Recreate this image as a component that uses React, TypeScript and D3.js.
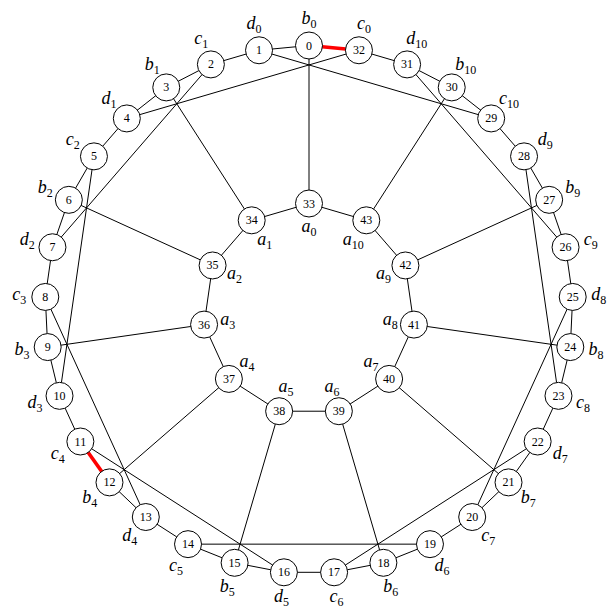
import * as d3 from "d3";

// outer ring labels (node 0..32), letter + subscript
const outerLabels: [string, string][] = [
  ["b", "0"], ["d", "0"], ["c", "1"], ["b", "1"], ["d", "1"], ["c", "2"], ["b", "2"], ["d", "2"],
  ["c", "3"], ["b", "3"], ["d", "3"], ["c", "4"], ["b", "4"], ["d", "4"], ["c", "5"], ["b", "5"],
  ["d", "5"], ["c", "6"], ["b", "6"], ["d", "6"], ["c", "7"], ["b", "7"], ["d", "7"], ["c", "8"],
  ["b", "8"], ["d", "8"], ["c", "9"], ["b", "9"], ["d", "9"], ["c", "10"], ["b", "10"], ["d", "10"],
  ["c", "0"],
];
// inner ring labels (node 33..43)
const innerLabels: [string, string][] = [
  ["a", "0"], ["a", "1"], ["a", "2"], ["a", "3"], ["a", "4"], ["a", "5"],
  ["a", "6"], ["a", "7"], ["a", "8"], ["a", "9"], ["a", "10"],
];
// spokes a_i - b_i
const spokes: [number, number][] = [
  [33, 0], [34, 3], [35, 6], [36, 9], [37, 12], [38, 15],
  [39, 18], [40, 21], [41, 24], [42, 27], [43, 30],
];
// chords c_i - d_(i+1)
const chords: [number, number][] = [
  [32, 4], [2, 7], [5, 10], [8, 13], [11, 16], [14, 19],
  [17, 22], [20, 25], [23, 28], [26, 31], [29, 1],
];
const redEdges: [number, number][] = [[0, 32], [11, 12]];

const W = 611, H = 609;
const cx = 309, cy = 309.5;
const R_OUT = 264, R_IN = 106;
const R_OUT_LBL = 290, R_IN_LBL = 82;
const NODE_R = 13.5;

const nOut = outerLabels.length;
const nIn = innerLabels.length;

const angOut = d3.scaleLinear().domain([0, nOut]).range([0, -2 * Math.PI]);
const angIn = d3.scaleLinear().domain([0, nIn]).range([0, -2 * Math.PI]);

function pos(i: number, lbl = false): [number, number] {
  const p = i < nOut
    ? d3.pointRadial(angOut(i), lbl ? R_OUT_LBL : R_OUT)
    : d3.pointRadial(angIn(i - nOut), lbl ? R_IN_LBL : R_IN);
  return [cx + p[0], cy + p[1]];
}

const ringEdges: [number, number][] = [
  ...d3.range(nOut).map(i => [i, (i + 1) % nOut] as [number, number]),
  ...d3.range(nIn).map(i => [nOut + i, nOut + (i + 1) % nIn] as [number, number]),
];
const isRed = (a: number, b: number) =>
  redEdges.some(([u, v]) => (u === a && v === b) || (u === b && v === a));

const edges = [...ringEdges, ...spokes, ...chords];
const allLabels = [...outerLabels, ...innerLabels];

export default function App() {
  return (
    <svg width={W} height={H} style={{ position: "absolute", left: 0, top: 0, background: "#fff" }}>
      <g>
        {edges.filter(([a, b]) => !isRed(a, b)).map(([a, b], k) => {
          const [x1, y1] = pos(a), [x2, y2] = pos(b);
          return <line key={"e" + k} x1={x1} y1={y1} x2={x2} y2={y2} stroke="#000" strokeWidth={1} />;
        })}
        {redEdges.map(([a, b], k) => {
          const [x1, y1] = pos(a), [x2, y2] = pos(b);
          return <line key={"r" + k} x1={x1} y1={y1} x2={x2} y2={y2} stroke="#f00" strokeWidth={3.5} />;
        })}
      </g>
      <g>
        {allLabels.map((_, i) => {
          const [x, y] = pos(i);
          return (
            <g key={"n" + i}>
              <circle cx={x} cy={y} r={NODE_R} fill="#fff" stroke="#000" strokeWidth={1} />
              <text x={x} y={y + 4} textAnchor="middle" fontFamily="'Liberation Serif', serif" fontSize={12}>{i}</text>
            </g>
          );
        })}
      </g>
      <g fontFamily="'Liberation Serif', serif">
        {allLabels.map(([l, s], i) => {
          const [x, y] = pos(i, true);
          return (
            <text key={"l" + i} x={x} y={y + 4} textAnchor="middle">
              <tspan fontStyle="italic" fontSize={18}>{l}</tspan>
              <tspan fontSize={12} dy={4}>{s}</tspan>
            </text>
          );
        })}
      </g>
    </svg>
  );
}
